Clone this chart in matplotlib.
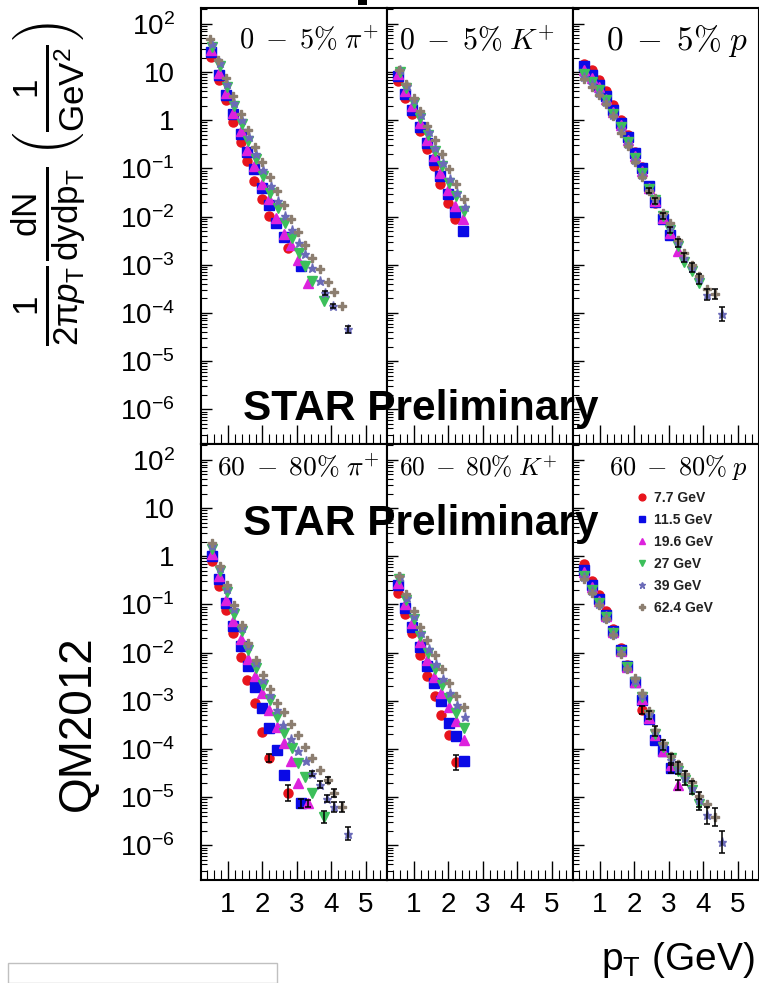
import numpy as np
import matplotlib.pyplot as plt
from matplotlib.patches import Rectangle
from matplotlib.ticker import FixedLocator, MultipleLocator, LogLocator, NullFormatter

plt.rcParams['font.family'] = ['Liberation Sans', 'DejaVu Sans']
plt.rcParams['mathtext.fontset'] = 'custom'
plt.rcParams['mathtext.rm'] = 'Liberation Sans'
plt.rcParams['mathtext.it'] = 'Liberation Sans:italic'
plt.rcParams['mathtext.bf'] = 'Liberation Sans:bold'

# beam energies and their markers
energies = ['7.7 GeV', '11.5 GeV', '19.6 GeV', '27 GeV', '39 GeV', '62.4 GeV']
markers = ['o', 's', '^', 'v', '*', 'P']
colors = ['#e8141c', '#0a0ae6', '#dd22dd', '#3cbf5a', '#6b6bb8', '#8c7e70']
sizes = [6.5, 6.5, 6.5, 6.5, 6.5, 6]

# values: (pT [GeV], log10 of yield)
# --- 0-5% pi+
pi_c_77 = [(0.50, 1.32), (0.74, 0.84), (0.94, 0.41), (1.15, -0.04), (1.37, -0.45), (1.56, -0.85),
           (1.76, -1.26), (1.98, -1.64), (2.19, -1.99), (2.75, -2.66)]
pi_c_115 = [(0.50, 1.42), (0.74, 0.94), (0.94, 0.53), (1.15, 0.12), (1.37, -0.28), (1.56, -0.66),
            (1.76, -1.02), (1.98, -1.40), (2.19, -1.76), (2.39, -2.13), (2.62, -2.42), (3.11, -3.02)]
pi_c_196 = [(0.50, 1.46), (0.74, 0.98), (0.94, 0.57), (1.15, 0.15), (1.37, -0.23), (1.56, -0.61),
            (1.76, -0.95), (1.98, -1.33), (2.19, -1.64), (2.39, -2.02), (2.62, -2.37), (2.82, -2.59),
            (3.03, -2.91), (3.31, -3.37)]
pi_c_27 = [(0.55, 1.53), (0.77, 1.12), (0.97, 0.68), (1.18, 0.29), (1.40, -0.08), (1.59, -0.44),
           (1.80, -0.80), (2.02, -1.16), (2.22, -1.51), (2.44, -1.82), (2.65, -2.13), (2.86, -2.44),
           (3.06, -2.75), (3.23, -3.02), (3.44, -3.34), (3.79, -3.75)]
pi_c_39 = [(0.55, 1.58), (0.77, 1.18), (0.97, 0.75), (1.18, 0.36), (1.40, 0.00), (1.61, -0.35),
           (1.82, -0.70), (2.03, -1.04), (2.24, -1.37), (2.45, -1.68), (2.66, -1.98), (2.86, -2.27),
           (3.06, -2.54), (3.23, -2.78), (3.44, -3.06), (3.67, -3.33), (3.81, -3.58), (4.05, -3.85),
           (4.49, -4.34)]
pi_c_624 = [(0.48, 1.69), (0.72, 1.25), (0.93, 0.88), (1.15, 0.50), (1.38, 0.13), (1.59, -0.21),
            (1.78, -0.56), (1.99, -0.86), (2.22, -1.18), (2.41, -1.47), (2.62, -1.76), (2.83, -2.04),
            (3.04, -2.31), (3.23, -2.59), (3.44, -2.85), (3.67, -3.09), (3.89, -3.35), (4.08, -3.56),
            (4.30, -3.85)]
pi_c_err = [(3.81, -3.58, 0.04), (4.05, -3.85, 0.04), (4.49, -4.34, 0.07)]

# --- 0-5% K+
k_c_77 = [(0.54, 0.82), (0.75, 0.46), (0.94, 0.12), (1.17, -0.23), (1.39, -0.59), (1.58, -0.95),
          (1.77, -1.32), (1.99, -1.71), (2.20, -2.06)]
k_c_115 = [(0.54, 0.91), (0.75, 0.54), (0.94, 0.22), (1.17, -0.15), (1.39, -0.47), (1.58, -0.82),
           (1.77, -1.16), (1.99, -1.54), (2.20, -1.90), (2.42, -2.30)]
k_c_196 = [(0.54, 0.96), (0.75, 0.60), (0.94, 0.29), (1.17, -0.06), (1.39, -0.40), (1.58, -0.75),
           (1.77, -1.09), (1.99, -1.44), (2.20, -1.78), (2.42, -2.06)]
k_c_27 = [(0.59, 1.01), (0.78, 0.67), (0.99, 0.36), (1.19, 0.05), (1.41, -0.30), (1.60, -0.64),
          (1.81, -0.95), (2.03, -1.30), (2.23, -1.58), (2.45, -1.89)]
k_c_39 = [(0.60, 1.04), (0.80, 0.71), (1.01, 0.41), (1.21, 0.10), (1.43, -0.24), (1.62, -0.57),
          (1.83, -0.88), (2.05, -1.22), (2.25, -1.50), (2.47, -1.80)]
k_c_624 = [(0.56, 1.05), (0.78, 0.75), (0.99, 0.47), (1.19, 0.20), (1.39, -0.11), (1.60, -0.40),
           (1.81, -0.70), (2.01, -1.02), (2.23, -1.33), (2.45, -1.64)]
k_c_err = []

# --- 0-5% p
p_c_77 = [(0.55, 1.17), (0.76, 1.05), (0.97, 0.84), (1.17, 0.60), (1.39, 0.32), (1.60, 0.00),
          (1.80, -0.30), (2.01, -0.66), (2.21, -0.98), (2.42, -1.38), (2.61, -1.72)]
p_c_115 = [(0.55, 1.12), (0.76, 0.94), (0.97, 0.74), (1.17, 0.50), (1.39, 0.22), (1.60, -0.06),
           (1.80, -0.35), (2.01, -0.68), (2.21, -1.00), (2.42, -1.37), (2.61, -1.70), (2.83, -2.05),
           (3.03, -2.38)]
p_c_196 = [(0.55, 1.05), (0.76, 0.88), (0.97, 0.68), (1.17, 0.45), (1.39, 0.18), (1.60, -0.10),
           (1.80, -0.40), (2.01, -0.74), (2.21, -1.05), (2.42, -1.40), (2.61, -1.68), (2.83, -2.02),
           (3.03, -2.33), (3.25, -2.72)]
p_c_27 = [(0.55, 0.95), (0.76, 0.80), (0.97, 0.62), (1.17, 0.41), (1.39, 0.14), (1.60, -0.15),
          (1.80, -0.45), (2.01, -0.78), (2.21, -1.10), (2.42, -1.43), (2.61, -1.65), (2.83, -1.98),
          (3.03, -2.28), (3.25, -2.62), (3.44, -2.95), (3.66, -3.12), (3.87, -3.38)]
p_c_39 = [(0.55, 0.90), (0.76, 0.75), (0.97, 0.57), (1.17, 0.37), (1.39, 0.11), (1.60, -0.20),
          (1.80, -0.50), (2.01, -0.82), (2.21, -1.14), (2.42, -1.45), (2.61, -1.63), (2.83, -1.95),
          (3.03, -2.22), (3.25, -2.55), (3.44, -2.85), (3.66, -3.06), (3.87, -3.30), (4.09, -3.62),
          (4.53, -4.02)]
p_c_624 = [(0.55, 0.85), (0.76, 0.70), (0.97, 0.53), (1.17, 0.34), (1.39, 0.08), (1.60, -0.26),
           (1.80, -0.54), (2.01, -0.86), (2.21, -1.18), (2.42, -1.47), (2.61, -1.61), (2.83, -1.92),
           (3.03, -2.14), (3.25, -2.48), (3.44, -2.75), (3.66, -3.00), (3.87, -3.24), (4.09, -3.50),
           (4.33, -3.61)]
p_c_err = [(2.42, -1.45, 0.05), (2.61, -1.68, 0.06), (2.83, -1.98, 0.06), (3.03, -2.28, 0.07),
           (3.25, -2.55, 0.08), (3.44, -2.85, 0.09), (3.66, -3.06, 0.10), (3.87, -3.30, 0.10),
           (4.09, -3.62, 0.12), (4.33, -3.61, 0.10), (4.53, -4.02, 0.14)]

# --- 60-80% pi+
pi_p_77 = [(0.53, -0.10), (0.74, -0.62), (0.94, -1.12), (1.15, -1.60), (1.37, -2.09), (1.56, -2.56),
           (1.78, -3.05), (1.99, -3.64), (2.20, -4.19), (2.75, -4.92)]
pi_p_115 = [(0.53, 0.00), (0.74, -0.48), (0.94, -0.97), (1.15, -1.44), (1.37, -1.87), (1.59, -2.28),
            (1.78, -2.72), (1.99, -3.15), (2.20, -3.57), (2.41, -4.02), (2.62, -4.54), (3.12, -5.13)]
pi_p_196 = [(0.53, 0.04), (0.74, -0.42), (0.94, -0.90), (1.15, -1.35), (1.37, -1.72), (1.59, -2.13),
            (1.78, -2.48), (1.99, -2.84), (2.20, -3.19), (2.41, -3.54), (2.62, -3.88), (2.83, -4.24),
            (3.04, -4.70), (3.33, -5.13)]
pi_p_27 = [(0.55, 0.16), (0.77, -0.31), (0.98, -0.74), (1.18, -1.19), (1.40, -1.56), (1.59, -1.94),
           (1.80, -2.32), (2.02, -2.67), (2.22, -2.99), (2.41, -3.33), (2.63, -3.66), (2.85, -3.99),
           (3.04, -4.29), (3.23, -4.59), (3.44, -4.92), (3.79, -5.41)]
pi_p_39 = [(0.55, 0.22), (0.77, -0.25), (0.98, -0.67), (1.18, -1.10), (1.40, -1.48), (1.59, -1.86),
           (1.80, -2.22), (2.02, -2.56), (2.22, -2.88), (2.41, -3.20), (2.60, -3.50), (2.82, -3.80),
           (3.04, -4.04), (3.25, -4.26), (3.44, -4.51), (3.67, -4.74), (3.86, -5.03), (4.08, -5.20),
           (4.47, -5.76)]
pi_p_624 = [(0.53, 0.27), (0.77, -0.20), (0.98, -0.60), (1.18, -1.02), (1.40, -1.42), (1.59, -1.81),
            (1.80, -2.15), (2.02, -2.46), (2.22, -2.76), (2.41, -3.05), (2.63, -3.24), (2.83, -3.48),
            (3.04, -3.71), (3.23, -3.96), (3.44, -4.19), (3.67, -4.44), (3.89, -4.65), (4.08, -4.92),
            (4.30, -5.20)]
pi_p_err = [(2.20, -4.19, 0.08), (2.75, -4.92, 0.17), (3.12, -5.13, 0.10), (3.33, -5.13, 0.08),
            (3.79, -5.41, 0.12), (3.44, -4.51, 0.05), (3.67, -4.74, 0.07), (3.86, -5.03, 0.08),
            (4.08, -5.20, 0.10), (4.47, -5.76, 0.14), (3.89, -4.65, 0.06), (4.08, -4.92, 0.08),
            (4.30, -5.20, 0.10)]

# --- 60-80% K+
k_p_77 = [(0.54, -0.76), (0.75, -1.19), (0.94, -1.60), (1.17, -2.04), (1.38, -2.48), (1.60, -2.91),
          (1.79, -3.29), (2.01, -3.71), (2.23, -4.28)]
k_p_115 = [(0.54, -0.60), (0.75, -1.07), (0.94, -1.46), (1.17, -1.88), (1.38, -2.27), (1.58, -2.63),
           (1.79, -3.01), (2.01, -3.46), (2.23, -3.73), (2.45, -4.26)]
k_p_196 = [(0.54, -0.55), (0.75, -1.00), (0.94, -1.38), (1.17, -1.79), (1.38, -2.15), (1.58, -2.51),
           (1.79, -2.84), (2.01, -3.13), (2.23, -3.43), (2.45, -3.81)]
k_p_27 = [(0.57, -0.48), (0.78, -0.91), (0.99, -1.30), (1.19, -1.66), (1.41, -2.01), (1.62, -2.34),
          (1.81, -2.67), (2.02, -2.94), (2.23, -3.26), (2.45, -3.57)]
k_p_39 = [(0.59, -0.44), (0.80, -0.86), (1.01, -1.24), (1.21, -1.59), (1.43, -1.93), (1.64, -2.24),
          (1.83, -2.55), (2.04, -2.83), (2.25, -3.08), (2.47, -3.33)]
k_p_624 = [(0.56, -0.41), (0.78, -0.79), (0.99, -1.14), (1.19, -1.46), (1.39, -1.74), (1.60, -2.04),
           (1.81, -2.34), (2.01, -2.63), (2.23, -2.90), (2.45, -3.13)]
k_p_err = [(2.23, -4.28, 0.15)]

# --- 60-80% p
p_p_77 = [(0.55, -0.17), (0.76, -0.51), (0.97, -0.81), (1.17, -1.14), (1.39, -1.50), (1.60, -1.90),
          (1.79, -2.25), (2.01, -2.62), (2.21, -3.19)]
p_p_115 = [(0.55, -0.29), (0.76, -0.60), (0.97, -0.88), (1.17, -1.21), (1.39, -1.56), (1.60, -1.95),
           (1.79, -2.28), (2.01, -2.62), (2.21, -2.98), (2.42, -3.38), (2.61, -3.81), (2.83, -4.05),
           (3.05, -4.40)]
p_p_196 = [(0.55, -0.33), (0.76, -0.63), (0.97, -0.92), (1.17, -1.24), (1.39, -1.58), (1.60, -1.97),
           (1.79, -2.30), (2.01, -2.62), (2.21, -2.97), (2.42, -3.35), (2.61, -3.72), (2.83, -4.04),
           (3.05, -4.33), (3.25, -4.75)]
p_p_27 = [(0.55, -0.40), (0.76, -0.70), (0.97, -0.97), (1.17, -1.27), (1.39, -1.60), (1.60, -1.98),
          (1.79, -2.30), (2.01, -2.60), (2.21, -2.92), (2.42, -3.30), (2.61, -3.68), (2.83, -3.95),
          (3.05, -4.18), (3.25, -4.45), (3.46, -4.65), (3.66, -4.85), (3.87, -5.15)]
p_p_39 = [(0.55, -0.44), (0.76, -0.73), (0.97, -0.99), (1.17, -1.29), (1.39, -1.62), (1.60, -1.99),
          (1.79, -2.32), (2.01, -2.58), (2.21, -2.90), (2.42, -3.27), (2.61, -3.63), (2.83, -3.92),
          (3.05, -4.22), (3.25, -4.40), (3.46, -4.60), (3.66, -4.80), (3.87, -5.05), (4.09, -5.38),
          (4.53, -5.93)]
p_p_624 = [(0.55, -0.48), (0.76, -0.76), (0.97, -1.02), (1.17, -1.31), (1.39, -1.64), (1.60, -2.02),
           (1.79, -2.33), (2.01, -2.52), (2.21, -2.84), (2.42, -3.22), (2.61, -3.60), (2.83, -3.88),
           (3.05, -4.15), (3.25, -4.32), (3.46, -4.52), (3.66, -4.68), (3.87, -4.98), (4.09, -5.15),
           (4.33, -5.41)]
p_p_err = [(2.21, -3.19, 0.08), (2.42, -3.30, 0.08), (2.61, -3.63, 0.10), (2.83, -3.92, 0.10),
           (3.05, -4.22, 0.12), (3.25, -4.40, 0.12), (3.46, -4.60, 0.14), (3.66, -4.80, 0.14),
           (3.87, -5.05, 0.15), (4.09, -5.38, 0.18), (4.33, -5.41, 0.18), (4.53, -5.93, 0.22),
           (3.05, -4.40, 0.10), (3.25, -4.75, 0.10), (3.87, -5.15, 0.12)]

panel_titles = [r'$0\;-\;5\%\;\pi^{+}$', r'$0\;-\;5\%\;K^{+}$', r'$0\;-\;5\%\;p$',
                r'$60\;-\;80\%\;\pi^{+}$', r'$60\;-\;80\%\;K^{+}$', r'$60\;-\;80\%\;p$']
ytick_labels = [r'$\mathregular{10^{-6}}$', r'$\mathregular{10^{-5}}$', r'$\mathregular{10^{-4}}$',
                r'$\mathregular{10^{-3}}$', r'$\mathregular{10^{-2}}$', r'$\mathregular{10^{-1}}$',
                '1', '10', r'$\mathregular{10^{2}}$']

panels = [
    ([pi_c_77, pi_c_115, pi_c_196, pi_c_27, pi_c_39, pi_c_624], pi_c_err),
    ([k_c_77, k_c_115, k_c_196, k_c_27, k_c_39, k_c_624], k_c_err),
    ([p_c_77, p_c_115, p_c_196, p_c_27, p_c_39, p_c_624], p_c_err),
    ([pi_p_77, pi_p_115, pi_p_196, pi_p_27, pi_p_39, pi_p_624], pi_p_err),
    ([k_p_77, k_p_115, k_p_196, k_p_27, k_p_39, k_p_624], k_p_err),
    ([p_p_77, p_p_115, p_p_196, p_p_27, p_p_39, p_p_624], p_p_err),
]
title_pos = [(0.205, 0.925), (0.065, 0.925), (0.18, 0.925), (0.085, 0.945), (0.065, 0.945), (0.195, 0.945)]
title_size = [20.5, 21.5, 24, 19.8, 18.3, 19]

W, H = 759, 983
fig = plt.figure(figsize=(W / 100, H / 100), dpi=100)
axes = fig.subplots(2, 3, gridspec_kw=dict(left=201 / W, right=1.0, top=1 - 8 / H, bottom=1 - 880 / H,
                                           wspace=0, hspace=0))

for i, ax in enumerate(axes.flat):
    series, errs = panels[i]
    for s, pts in enumerate(series):
        pt = [p[0] for p in pts]
        yv = [10 ** p[1] for p in pts]
        ax.plot(pt, yv, ls='none', marker=markers[s], color=colors[s], ms=sizes[s],
                mec=colors[s], label=energies[s], zorder=2 + s)
    if errs:
        ex = [e[0] for e in errs]
        ey = [10 ** e[1] for e in errs]
        lo = [10 ** e[1] - 10 ** (e[1] - e[2]) for e in errs]
        hi = [10 ** (e[1] + e[2]) - 10 ** e[1] for e in errs]
        ax.errorbar(ex, ey, yerr=[lo, hi], fmt='none', ecolor='black', elinewidth=1.1,
                    capsize=2.5, capthick=1.1, zorder=10)

    ax.set_yscale('log')
    ax.set_ylim(10 ** -6.72, 10 ** 2.33)
    ax.set_xlim(0.22, 5.61)
    ax.yaxis.set_major_locator(FixedLocator(10.0 ** np.arange(-6, 3)))
    ax.yaxis.set_minor_locator(LogLocator(base=10, subs=np.arange(2, 10), numticks=20))
    ax.yaxis.set_minor_formatter(NullFormatter())
    ax.xaxis.set_major_locator(MultipleLocator(1))
    ax.xaxis.set_minor_locator(MultipleLocator(0.2))
    ax.tick_params(axis='y', which='major', direction='in', length=8, width=1.0)
    ax.tick_params(axis='y', which='minor', direction='in', length=4, width=0.8)
    ax.tick_params(axis='x', which='major', direction='in', length=14, width=1.0)
    ax.tick_params(axis='x', which='minor', direction='in', length=7, width=0.8)
    for sp in ax.spines.values():
        sp.set_linewidth(1.5)

    if i % 3 == 0:
        ax.set_yticklabels(ytick_labels)
        ax.tick_params(axis='y', labelsize=20, pad=19)
    else:
        ax.tick_params(axis='y', labelleft=False)
    if i < 3:
        ax.tick_params(axis='x', labelbottom=False)
    else:
        ax.tick_params(axis='x', labelsize=20, pad=9)

    tx, ty = title_pos[i]
    ax.text(tx, ty, panel_titles[i], transform=ax.transAxes, fontsize=title_size[i], va='center',
            math_fontfamily='cm', zorder=20)

leg = axes[1, 2].legend(loc='upper left', bbox_to_anchor=(0.31, 0.905), frameon=False,
                        prop={'weight': 'bold', 'size': 10}, handlelength=0.8, handletextpad=0.5,
                        labelspacing=0.58, markerscale=0.75, borderaxespad=0)
for t in leg.get_texts():
    t.set_color('#222222')

# axis titles and annotations
fig.text(50 / W, 1 - 184 / H,
         r'$\frac{1}{\mathrm{2π}p_\mathrm{T}}\frac{\mathrm{dN}}{\mathrm{dydp}_\mathrm{T}}\,\left(\frac{1}{\mathrm{GeV}^{2}}\right)$',
         rotation=90, ha='center', va='center', fontsize=36)
fig.text(78 / W, 1 - 723 / H, 'QM2012', rotation=90, ha='center', va='center', fontsize=33)
fig.text(755 / W, 1 - 970 / H, r'p$_\mathregular{T}$ (GeV)', ha='right', va='baseline', fontsize=28)
fig.text(243 / W, 1 - 420 / H, 'STAR Preliminary', fontsize=30.5, fontweight='bold', va='baseline',
         zorder=30)
fig.text(243 / W, 1 - 535 / H, 'STAR Preliminary', fontsize=30.5, fontweight='bold', va='baseline',
         zorder=30)

fig.patches.append(Rectangle((358 / W, 1 - 5 / H), 9 / W, 5 / H, transform=fig.transFigure,
                             facecolor='black', edgecolor='none'))
fig.patches.append(Rectangle((8 / W, 1 - 983 / H), 269 / W, 20 / H, transform=fig.transFigure,
                             facecolor='none', edgecolor='#c0c0c0', lw=1))

fig.savefig('out.png', dpi=100)
